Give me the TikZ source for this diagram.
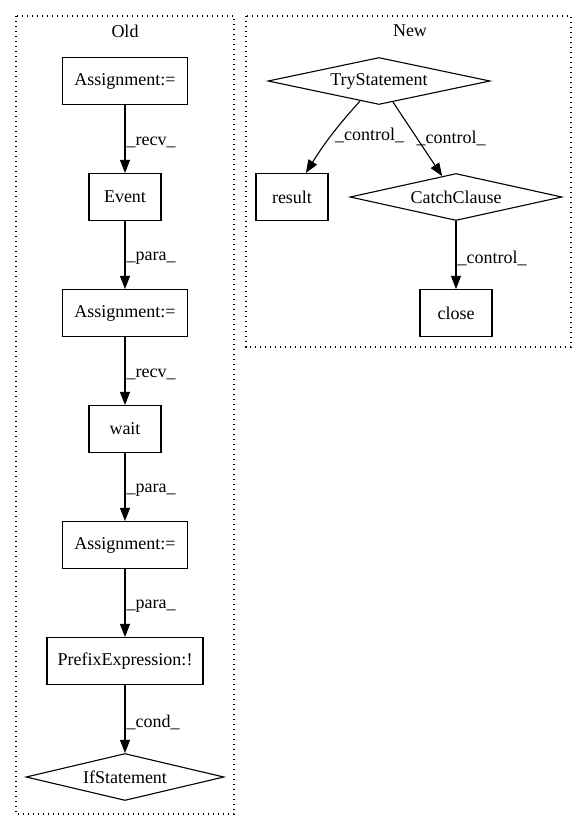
\documentclass[tikz,border=0pt]{standalone}
\usepackage{fontspec}
\setmainfont{Liberation Serif}
\usetikzlibrary{shapes.geometric,arrows.meta}

\tikzset{
  box/.style={draw, rectangle, line width=1.1pt, minimum height=47pt, inner sep=2pt},
  cond/.style={draw, diamond, line width=1.1pt, aspect=4.5, inner sep=0pt, minimum height=47pt},
  flow/.style={line width=1.1pt, -{Triangle[length=13pt,width=10pt]}},
  lbl/.style={anchor=west, inner sep=1pt, yshift=-3pt},
  cluster/.style={line width=1.1pt, dash pattern=on 1.2pt off 3.8pt}
}

\begin{document}
\begin{tikzpicture}[x=1pt, y=-1pt, font=\fontsize{18}{20}\selectfont]
        \useasboundingbox (0,0) rectangle (587,828);

        % old
        \draw[cluster] (16,16) rectangle (234,814);
        \node (oldlbl) at (125,31) {Old};
        \node[box, minimum width=125pt] (asg1) at (125,81) {Assignment:=};
        \node[box, minimum width=72pt] (event) at (125,197) {Event};
        \node[box, minimum width=125pt] (asg2) at (125,313) {Assignment:=};
        \node[box, minimum width=72pt] (wait) at (125,429) {wait};
        \node[box, minimum width=125pt] (asg3) at (125,545) {Assignment:=};
        \node[box, minimum width=156pt] (prefix) at (125,661) {PrefixExpression:!};
        \node[cond, minimum width=198pt] (ifst) at (125,777) {IfStatement};

        \draw[flow] (asg1) -- node[lbl] {\_recv\_} (event);
        \draw[flow] (event) -- node[lbl] {\_para\_} (asg2);
        \draw[flow] (asg2) -- node[lbl] {\_recv\_} (wait);
        \draw[flow] (wait) -- node[lbl] {\_para\_} (asg3);
        \draw[flow] (asg3) -- node[lbl] {\_para\_} (prefix);
        \draw[flow] (prefix) -- node[lbl] {\_cond\_} (ifst);

        % new
        \draw[cluster] (246,16) rectangle (571,347);
        \node (newlbl) at (410,31) {New};
        \node[cond, minimum width=222pt] (try) at (379,81) {TryStatement};
        \node[box, minimum width=72pt] (result) at (292,197) {result};
        \node[cond, minimum width=212pt] (catch) at (456,197) {CatchClause};
        \node[box, minimum width=72pt] (close) at (456,313) {close};

        \draw[flow] (try) to[bend right=5] node[lbl, pos=0.45] {\_control\_} (result.60);
        \draw[flow] (try) -- node[lbl, pos=0.45] {\_control\_} (catch);
        \draw[flow] (catch) -- node[lbl] {\_control\_} (close);
    \end{tikzpicture}
\end{document}
